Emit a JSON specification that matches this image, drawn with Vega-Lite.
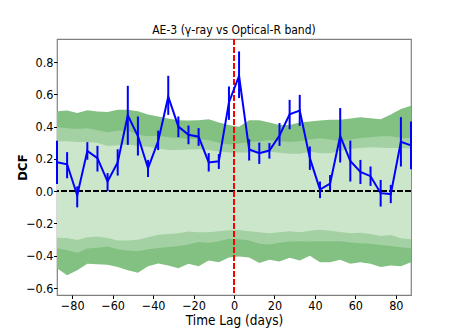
{
  "$schema": "https://vega.github.io/schema/vega-lite/v6.json",
  "autosize": {"type": "none"},
  "padding": {"left": 57, "top": 39, "right": 46, "bottom": 37},
  "width": 354,
  "height": 256,
  "title": {"text": "AE-3 (γ-ray vs Optical-R band)", "fontSize": 12, "fontWeight": "normal", "color": "black", "offset": 1},
  "config": {
    "font": "DejaVu Sans Condensed, DejaVu Sans, sans-serif",
    "view": {"stroke": "#808080", "strokeWidth": 1.2},
    "axis": {"domain": false, "grid": false, "tickColor": "black", "tickSize": 3.5, "tickWidth": 1, "labelFontSize": 12.5, "labelColor": "black", "labelPadding": 0.5, "labelOverlap": false, "labelBound": false, "titleFontSize": 13.5, "titleColor": "black", "titleFontWeight": "normal"}
  },
  "data": {"values": [
    {"lag": -87.5, "dcf": 0.18, "lo": 0.045, "hi": 0.312, "l3": -0.478, "l2": -0.354, "l1": -0.288, "u1": 0.31, "u2": 0.397, "u3": 0.496},
    {"lag": -82.5, "dcf": 0.167, "lo": 0.08, "hi": 0.242, "l3": -0.52, "l2": -0.365, "l1": -0.29, "u1": 0.31, "u2": 0.39, "u3": 0.5},
    {"lag": -77.5, "dcf": -0.025, "lo": -0.1, "hi": 0.03, "l3": -0.49, "l2": -0.381, "l1": -0.302, "u1": 0.305, "u2": 0.385, "u3": 0.484},
    {"lag": -72.5, "dcf": 0.25, "lo": 0.195, "hi": 0.304, "l3": -0.45, "l2": -0.355, "l1": -0.285, "u1": 0.305, "u2": 0.39, "u3": 0.502},
    {"lag": -67.5, "dcf": 0.205, "lo": 0.122, "hi": 0.281, "l3": -0.452, "l2": -0.35, "l1": -0.28, "u1": 0.3, "u2": 0.378, "u3": 0.494},
    {"lag": -62.5, "dcf": 0.06, "lo": 0.0, "hi": 0.112, "l3": -0.455, "l2": -0.343, "l1": -0.29, "u1": 0.28, "u2": 0.366, "u3": 0.49},
    {"lag": -57.5, "dcf": 0.178, "lo": 0.097, "hi": 0.26, "l3": -0.47, "l2": -0.36, "l1": -0.306, "u1": 0.285, "u2": 0.374, "u3": 0.505},
    {"lag": -52.5, "dcf": 0.47, "lo": 0.287, "hi": 0.653, "l3": -0.49, "l2": -0.368, "l1": -0.305, "u1": 0.29, "u2": 0.376, "u3": 0.504},
    {"lag": -47.5, "dcf": 0.342, "lo": 0.221, "hi": 0.463, "l3": -0.505, "l2": -0.372, "l1": -0.3, "u1": 0.28, "u2": 0.35, "u3": 0.496},
    {"lag": -42.5, "dcf": 0.142, "lo": 0.088, "hi": 0.194, "l3": -0.465, "l2": -0.36, "l1": -0.285, "u1": 0.275, "u2": 0.34, "u3": 0.475},
    {"lag": -37.5, "dcf": 0.31, "lo": 0.255, "hi": 0.375, "l3": -0.448, "l2": -0.352, "l1": -0.27, "u1": 0.265, "u2": 0.343, "u3": 0.463},
    {"lag": -32.5, "dcf": 0.585, "lo": 0.473, "hi": 0.715, "l3": -0.46, "l2": -0.345, "l1": -0.265, "u1": 0.256, "u2": 0.335, "u3": 0.45},
    {"lag": -27.5, "dcf": 0.4, "lo": 0.335, "hi": 0.463, "l3": -0.478, "l2": -0.34, "l1": -0.26, "u1": 0.256, "u2": 0.33, "u3": 0.44},
    {"lag": -22.5, "dcf": 0.35, "lo": 0.291, "hi": 0.407, "l3": -0.45, "l2": -0.33, "l1": -0.25, "u1": 0.258, "u2": 0.325, "u3": 0.438},
    {"lag": -17.5, "dcf": 0.338, "lo": 0.281, "hi": 0.391, "l3": -0.465, "l2": -0.315, "l1": -0.255, "u1": 0.26, "u2": 0.323, "u3": 0.44},
    {"lag": -12.5, "dcf": 0.178, "lo": 0.122, "hi": 0.236, "l3": -0.43, "l2": -0.32, "l1": -0.255, "u1": 0.256, "u2": 0.315, "u3": 0.446},
    {"lag": -7.5, "dcf": 0.185, "lo": 0.138, "hi": 0.23, "l3": -0.44, "l2": -0.31, "l1": -0.248, "u1": 0.246, "u2": 0.3, "u3": 0.425},
    {"lag": -2.5, "dcf": 0.55, "lo": 0.442, "hi": 0.649, "l3": -0.41, "l2": -0.295, "l1": -0.242, "u1": 0.24, "u2": 0.29, "u3": 0.41},
    {"lag": 2.5, "dcf": 0.715, "lo": 0.577, "hi": 0.866, "l3": -0.405, "l2": -0.298, "l1": -0.24, "u1": 0.24, "u2": 0.295, "u3": 0.4},
    {"lag": 7.5, "dcf": 0.258, "lo": 0.19, "hi": 0.322, "l3": -0.41, "l2": -0.305, "l1": -0.248, "u1": 0.24, "u2": 0.305, "u3": 0.44},
    {"lag": 12.5, "dcf": 0.236, "lo": 0.169, "hi": 0.301, "l3": -0.445, "l2": -0.325, "l1": -0.255, "u1": 0.242, "u2": 0.31, "u3": 0.44},
    {"lag": 17.5, "dcf": 0.252, "lo": 0.202, "hi": 0.298, "l3": -0.425, "l2": -0.33, "l1": -0.26, "u1": 0.245, "u2": 0.318, "u3": 0.425},
    {"lag": 22.5, "dcf": 0.345, "lo": 0.281, "hi": 0.422, "l3": -0.435, "l2": -0.32, "l1": -0.255, "u1": 0.238, "u2": 0.31, "u3": 0.41},
    {"lag": 27.5, "dcf": 0.477, "lo": 0.384, "hi": 0.566, "l3": -0.412, "l2": -0.312, "l1": -0.248, "u1": 0.232, "u2": 0.305, "u3": 0.41},
    {"lag": 32.5, "dcf": 0.5, "lo": 0.405, "hi": 0.597, "l3": -0.43, "l2": -0.31, "l1": -0.255, "u1": 0.232, "u2": 0.31, "u3": 0.426},
    {"lag": 37.5, "dcf": 0.205, "lo": 0.132, "hi": 0.277, "l3": -0.4, "l2": -0.312, "l1": -0.245, "u1": 0.245, "u2": 0.32, "u3": 0.432},
    {"lag": 42.5, "dcf": 0.01, "lo": -0.043, "hi": 0.06, "l3": -0.44, "l2": -0.31, "l1": -0.238, "u1": 0.235, "u2": 0.328, "u3": 0.438},
    {"lag": 47.5, "dcf": 0.047, "lo": 0.005, "hi": 0.1, "l3": -0.44, "l2": -0.31, "l1": -0.245, "u1": 0.235, "u2": 0.32, "u3": 0.442},
    {"lag": 52.5, "dcf": 0.342, "lo": 0.178, "hi": 0.515, "l3": -0.425, "l2": -0.31, "l1": -0.252, "u1": 0.25, "u2": 0.31, "u3": 0.442},
    {"lag": 57.5, "dcf": 0.187, "lo": 0.06, "hi": 0.314, "l3": -0.45, "l2": -0.318, "l1": -0.26, "u1": 0.262, "u2": 0.32, "u3": 0.45},
    {"lag": 62.5, "dcf": 0.12, "lo": 0.045, "hi": 0.194, "l3": -0.44, "l2": -0.322, "l1": -0.258, "u1": 0.268, "u2": 0.33, "u3": 0.458},
    {"lag": 67.5, "dcf": 0.093, "lo": 0.033, "hi": 0.153, "l3": -0.45, "l2": -0.325, "l1": -0.265, "u1": 0.272, "u2": 0.335, "u3": 0.452},
    {"lag": 72.5, "dcf": -0.012, "lo": -0.095, "hi": 0.07, "l3": -0.47, "l2": -0.333, "l1": -0.277, "u1": 0.27, "u2": 0.34, "u3": 0.446},
    {"lag": 77.5, "dcf": -0.018, "lo": -0.074, "hi": 0.039, "l3": -0.46, "l2": -0.34, "l1": -0.272, "u1": 0.268, "u2": 0.34, "u3": 0.475},
    {"lag": 82.5, "dcf": 0.306, "lo": 0.153, "hi": 0.459, "l3": -0.465, "l2": -0.347, "l1": -0.292, "u1": 0.268, "u2": 0.33, "u3": 0.51},
    {"lag": 87.5, "dcf": 0.284, "lo": 0.136, "hi": 0.432, "l3": -0.44, "l2": -0.354, "l1": -0.298, "u1": 0.265, "u2": 0.33, "u3": 0.53}
  ]},
  "layer": [
    {
      "mark": {"type": "area", "color": "#83c183", "opacity": 1},
      "encoding": {
        "x": {"field": "lag", "type": "quantitative", "scale": {"domain": [-87.5, 87.5], "nice": false, "zero": false}, "axis": {"values": [-80, -60, -40, -20, 0, 20, 40, 60, 80], "tickCount": 20, "title": "Time Lag (days)", "titleBaseline": "alphabetic", "titleY": 29}},
        "y": {"field": "l3", "type": "quantitative", "scale": {"domain": [-0.643, 0.943], "nice": false, "zero": false}, "axis": {"values": [-0.6, -0.4, -0.2, 0, 0.2, 0.4, 0.6, 0.8], "tickCount": 20, "format": ".1f", "title": "DCF", "titleFontWeight": "bold", "titleFontSize": 13, "titleX": -34.5, "titleY": 128, "titleAngle": 270, "titleBaseline": "middle", "titleAlign": "center"}},
        "y2": {"field": "u3"}
      }
    },
    {
      "mark": {"type": "area", "color": "#a3d1a3", "opacity": 1},
      "encoding": {
        "x": {"field": "lag", "type": "quantitative"},
        "y": {"field": "l2", "type": "quantitative"},
        "y2": {"field": "u2"}
      }
    },
    {
      "mark": {"type": "area", "color": "#cce6cc", "opacity": 1},
      "encoding": {
        "x": {"field": "lag", "type": "quantitative"},
        "y": {"field": "l1", "type": "quantitative"},
        "y2": {"field": "u1"}
      }
    },
    {
      "mark": {"type": "rule", "color": "black", "strokeWidth": 1.5, "strokeDash": [5.5, 2.5]},
      "encoding": {"y": {"datum": 0, "type": "quantitative"}}
    },
    {
      "mark": {"type": "rule", "color": "red", "strokeWidth": 1.5, "strokeDash": [5.5, 2.5]},
      "encoding": {"x": {"datum": 0, "type": "quantitative"}}
    },
    {
      "mark": {"type": "line", "color": "blue", "strokeWidth": 2},
      "encoding": {
        "x": {"field": "lag", "type": "quantitative"},
        "y": {"field": "dcf", "type": "quantitative"}
      }
    },
    {
      "mark": {"type": "rule", "color": "blue", "strokeWidth": 2},
      "encoding": {
        "x": {"field": "lag", "type": "quantitative"},
        "y": {"field": "lo", "type": "quantitative"},
        "y2": {"field": "hi"}
      }
    }
  ]
}
